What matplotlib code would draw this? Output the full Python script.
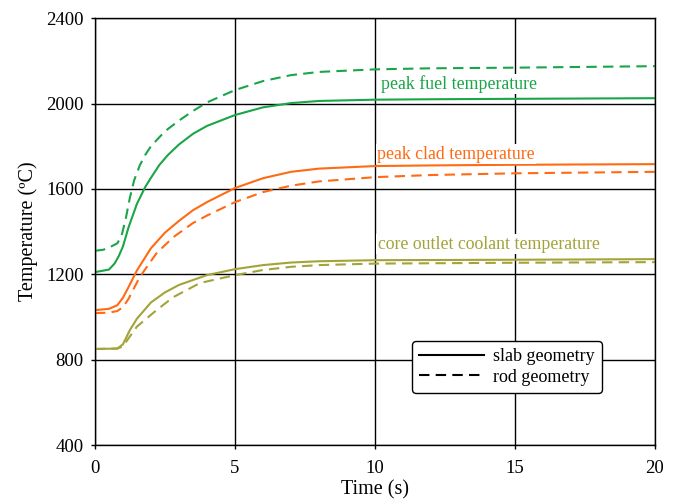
import numpy as np
import matplotlib
matplotlib.use('Agg')
import matplotlib.pyplot as plt
from matplotlib.lines import Line2D

# ─── Data ────────────────────────────────────────────────────────────────────

fuel_slab_t = [0, 0.5, 0.7, 0.85, 1.0, 1.2, 1.5, 1.8, 2.0, 2.3, 2.6, 3.0, 3.5, 4.0, 5.0, 6.0, 7.0, 8.0, 10.0, 12.0, 15.0, 20.0]
fuel_slab_T = [1210, 1222, 1250, 1285, 1330, 1420, 1530, 1610, 1652, 1712, 1758, 1808, 1858, 1895, 1946, 1982, 2002, 2012, 2018, 2020, 2022, 2025]

fuel_rod_t = [0, 0.3, 0.5, 0.8, 0.95, 1.1, 1.25, 1.4, 1.6, 1.8, 2.0, 2.5, 3.0, 3.5, 4.0, 5.0, 6.0, 7.0, 8.0, 10.0, 12.0, 15.0, 20.0]
fuel_rod_T = [1310, 1315, 1325, 1345, 1380, 1460, 1560, 1640, 1710, 1760, 1800, 1870, 1920, 1965, 2005, 2063, 2105, 2133, 2148, 2160, 2165, 2168, 2175]

clad_slab_t = [0, 0.5, 0.8, 1.0, 1.2, 1.5, 2.0, 2.5, 3.0, 3.5, 4.0, 5.0, 6.0, 7.0, 8.0, 10.0, 12.0, 15.0, 20.0]
clad_slab_T = [1032, 1038, 1055, 1090, 1140, 1218, 1322, 1395, 1450, 1500, 1538, 1604, 1650, 1680, 1695, 1707, 1710, 1713, 1716]

clad_rod_t = [0, 0.5, 0.8, 1.0, 1.2, 1.6, 2.2, 2.8, 3.5, 4.0, 5.0, 6.0, 7.0, 8.0, 10.0, 12.0, 15.0, 20.0]
clad_rod_T = [1018, 1020, 1028, 1046, 1085, 1187, 1299, 1374, 1440, 1475, 1538, 1585, 1615, 1635, 1655, 1665, 1673, 1680]

cool_slab_t = [0, 0.8, 1.0, 1.25, 1.5, 2.0, 2.5, 3.0, 4.0, 5.0, 6.0, 7.0, 8.0, 10.0, 15.0, 20.0]
cool_slab_T = [850, 852, 872, 939, 992, 1068, 1115, 1150, 1196, 1224, 1243, 1255, 1261, 1266, 1268, 1271]

cool_rod_t = [0, 0.8, 1.0, 1.2, 1.5, 2.2, 2.8, 3.75, 5.0, 6.0, 7.0, 8.0, 10.0, 15.0, 20.0]
cool_rod_T = [850, 852, 862, 900, 955, 1032, 1093, 1159, 1196, 1220, 1235, 1243, 1250, 1254, 1257]

GREEN  = '#1aa548'
ORANGE = '#ff6a13'
OLIVE  = '#a3a33a'

plt.rcParams['font.family'] = ['Liberation Serif', 'DejaVu Serif']

fig = plt.figure(figsize=(6.83, 5.04), dpi=100)
ax = fig.add_axes([0.139, 0.117, 0.82, 0.847])

dash = (5, 3)
ax.plot(fuel_slab_t, fuel_slab_T, color=GREEN, lw=1.5)
ax.plot(fuel_rod_t, fuel_rod_T, color=GREEN, lw=1.5, dashes=dash)
ax.plot(clad_slab_t, clad_slab_T, color=ORANGE, lw=1.5)
ax.plot(clad_rod_t, clad_rod_T, color=ORANGE, lw=1.5, dashes=dash)
ax.plot(cool_slab_t, cool_slab_T, color=OLIVE, lw=1.5)
ax.plot(cool_rod_t, cool_rod_T, color=OLIVE, lw=1.5, dashes=dash)

box = dict(facecolor='white', edgecolor='none', pad=1)
ax.text(10.2, 2091, 'peak fuel temperature', color=GREEN, fontsize=12.8, va='center', bbox=box)
ax.text(10.07, 1763, 'peak clad temperature', color=ORANGE, fontsize=12.8, va='center', bbox=box)
ax.text(10.1, 1341, 'core outlet coolant temperature', color=OLIVE, fontsize=12.8, va='center', bbox=box)

ax.set_xlim(0, 20)
ax.set_ylim(400, 2400)
ax.set_xticks([0, 5, 10, 15, 20])
ax.set_yticks([400, 800, 1200, 1600, 2000, 2400])
ax.grid(True, color='black', lw=1)
ax.set_axisbelow(True)
ax.tick_params(labelsize=13.5, length=3, width=1, color='black', pad=5)
ax.tick_params(axis='x', pad=8)
for s in ax.spines.values():
    s.set_linewidth(1)
ax.set_xlabel('Time (s)', fontsize=14.5, labelpad=2)
ax.set_ylabel('Temperature (ºC)', fontsize=14.5, labelpad=6)

handles = [Line2D([], [], color='black', lw=1.5),
           Line2D([], [], color='black', lw=1.5, dashes=dash)]
leg = ax.legend(handles, ['slab geometry', 'rod geometry'], loc='lower left',
                bbox_to_anchor=(0.566, 0.122), fontsize=13, handlelength=3.6,
                handletextpad=0.5, fancybox=True, framealpha=1, edgecolor='black',
                borderpad=0.4, labelspacing=0.2, borderaxespad=0)
leg.get_frame().set_linewidth(1)

fig.savefig('out.png', dpi=100)
